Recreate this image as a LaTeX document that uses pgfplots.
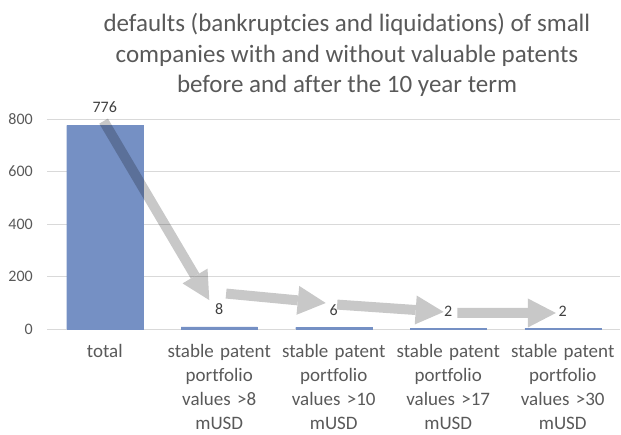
\documentclass[border=0pt]{standalone}
\usepackage{pgfplots}
\pgfplotsset{compat=1.18}
\usepackage{fontspec}
\setmainfont{Carlito}[RawFeature={-liga;-clig;-calt;-dlig}]
\usetikzlibrary{arrows.meta}
\definecolor{barblue}{HTML}{7590C4}
\definecolor{txtgray}{HTML}{595959}
\definecolor{lblgray}{HTML}{404040}
\definecolor{gridgray}{HTML}{D9D9D9}
\definecolor{arrowgray}{HTML}{C8C8C8}
\begin{document}
\begin{tikzpicture}
\begin{axis}[
  at={(47.5pt,105pt)}, anchor=south west,
  scale only axis, width=572.5pt, height=210pt,
  xmin=-0.5, xmax=4.5, ymin=0, ymax=800,
  clip=false,
  ytick={0,200,400,600,800},
  xtick={0,1,2,3,4},
  xticklabels={total,{stable patent\\portfolio\\values >8\\mUSD},{stable patent\\portfolio\\values >10\\mUSD},{stable patent\\portfolio\\values >17\\mUSD},{stable patent\\portfolio\\values >30\\mUSD}},
  major tick length=0pt,
  axis lines*=left,
  y axis line style={draw=none},
  x axis line style={draw=gridgray, line width=0.8pt},
  ymajorgrids, grid style={draw=gridgray, line width=0.8pt},
  /pgf/number format/assume math mode=true,
  x tick label style={align=center, text width=118pt, inner sep=0pt, anchor=north, yshift=-15pt,
    font=\fontsize{19}{24}\selectfont, text=txtgray},
  y tick label style={anchor=east, inner sep=0pt, xshift=-14.5pt,
    font=\fontsize{16}{19}\selectfont, text=txtgray},
  ybar, bar width=76pt,
  nodes near coords,
  every node near coord/.append style={font=\fontsize{16}{19}\selectfont, text=lblgray, inner sep=0pt, anchor=south, yshift=12pt},
]
\addplot[fill=barblue, draw=barblue] coordinates {(0,776) (1,8) (2,6) (3,2) (4,2)};
\coordinate (a1s) at (axis cs:-0.01,792);
\coordinate (a1e) at (axis cs:0.913,110);
\coordinate (a2s) at (axis cs:1.06,135);
\coordinate (a2e) at (axis cs:1.93,99);
\coordinate (a3s) at (axis cs:2.03,93);
\coordinate (a3e) at (axis cs:2.96,65);
\coordinate (a4s) at (axis cs:3.08,61);
\coordinate (a4e) at (axis cs:3.94,61);
\end{axis}
\begin{scope}[blend mode=multiply]
\begin{scope}[transparency group]
\tikzset{arr/.style={arrowgray, line width=10pt, -{Triangle[width=29pt,length=28pt,line width=0pt]}}}
\draw[arr] (a1s) -- (a1e);
\draw[arr] (a2s) -- (a2e);
\draw[arr] (a3s) -- (a3e);
\draw[arr] (a4s) -- (a4e);
\end{scope}
\end{scope}
\node[anchor=base, text=txtgray, font=\fontsize{25}{30}\selectfont] at (347pt,402pt) {defaults (bankruptcies and liquidations) of small};
\node[anchor=base, text=txtgray, font=\fontsize{25}{30}\selectfont] at (347pt,371pt) {companies with and without valuable patents};
\node[anchor=base, text=txtgray, font=\fontsize{25}{30}\selectfont] at (347pt,341pt) {before and after the 10 year term};
\pgfresetboundingbox
\useasboundingbox (0,0) rectangle (621pt,434pt);
\end{tikzpicture}
\end{document}
